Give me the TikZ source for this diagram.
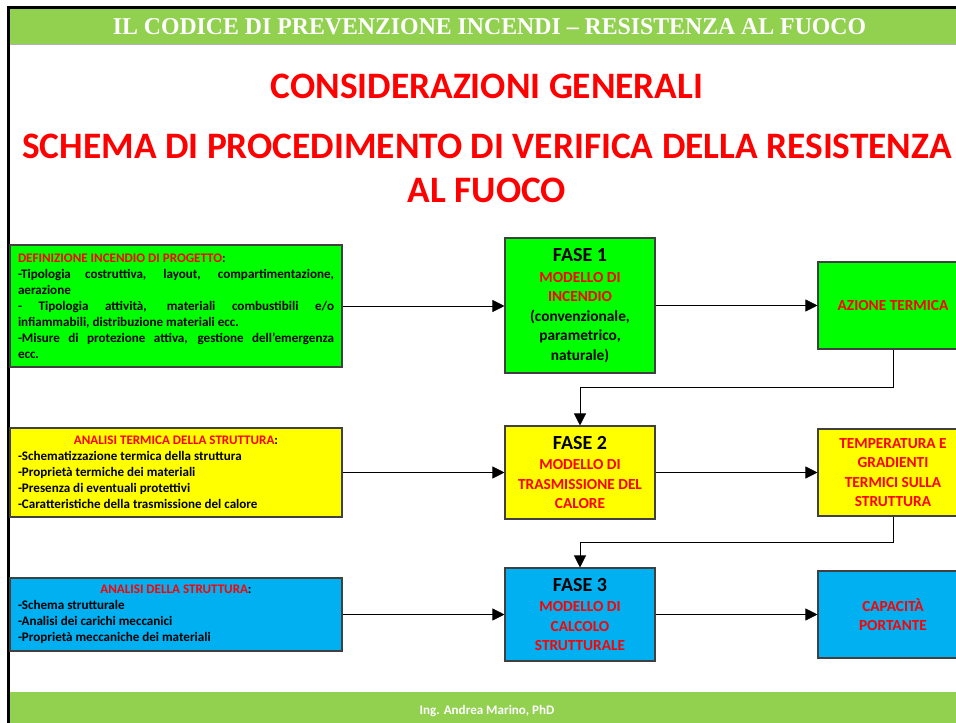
\documentclass[tikz,border=0pt]{standalone}
\usepackage{fontspec}
\usepackage{graphicx}
\setmainfont{Carlito}
\newfontfamily\headfont{Liberation Serif}
\usetikzlibrary{arrows.meta}
\definecolor{bandgreen}{HTML}{92D050}
\definecolor{boxgreen}{HTML}{00FF00}
\definecolor{boxyellow}{HTML}{FFFF00}
\definecolor{boxcyan}{HTML}{00B0F0}
\definecolor{linegray}{HTML}{404040}
\tikzset{arr/.style = {-{Triangle[length=9pt, width=9pt]}, draw=black, line width=0.6pt}}
\tikzset{box/.style = {draw=linegray, line width=0.8pt, inner sep=0}}
\tikzset{infobox/.style = {box, minimum width=249pt, text width=237pt, inner xsep=6pt,
                           font=\bfseries\fontsize{9.8}{12}\selectfont}}
\tikzset{fasebox/.style = {box, minimum width=112.5pt, minimum height=69.75pt, text width=105pt,
                           align=flush center, font=\bfseries\fontsize{11.5}{14.6}\selectfont}}
\tikzset{outbox/.style = {box, minimum width=112.5pt, minimum height=65.25pt, text width=100pt,
                          align=flush center, text=red, font=\bfseries\fontsize{11.5}{14.6}\selectfont}}
\tikzset{title/.style = {text=red, font=\bfseries\fontsize{28}{33}\selectfont}}
\newcommand{\fasename}[1]{{\fontsize{15}{18}\selectfont FASE #1}\\[1pt]}

\begin{document}
\begin{tikzpicture}[x=0.75pt, y=-0.75pt]
      \useasboundingbox (0,0) rectangle (956,723);
      \clip (0,0) rectangle (956,723);
      % frame and bands
      \fill [bandgreen] (10,9) rectangle (960,44);
      \draw [gray!60, line width=0.6pt] (10,44.5) -- (960,44.5);
      \fill [bandgreen] (10,692) rectangle (960,723);
      \draw [black, line width=2.4pt] (7,7.5) -- (960,7.5);
      \draw [black, line width=2.4pt] (8.5,6) -- (8.5,723);
      \node (head) at (489.5,27) {\resizebox{565pt}{12pt}{\color{white}\headfont\bfseries IL CODICE DI PREVENZIONE INCENDI – RESISTENZA AL FUOCO}};
      \node (pagenum) [anchor = west, text = white] at (952,27) {\headfont\bfseries\fontsize{15}{18}\selectfont 5};
      \node (foot) [text = white, font = \bfseries\fontsize{9.8}{12}\selectfont] at (487,711) {Ing. Andrea Marino, PhD};
      % titles
      \node (t1) [title] at (487,86) {CONSIDERAZIONI GENERALI};
      \node (t2) [title] at (487,146) {SCHEMA DI PROCEDIMENTO DI VERIFICA DELLA RESISTENZA};
      \node (t3) [title] at (487,190) {AL FUOCO};
      % input boxes
      \node (def) [infobox, fill = boxgreen, minimum height = 91.5pt, align = justify] at (176,306) {%
        {\color{red}DEFINIZIONE INCENDIO DI PROGETTO}:\\
        -Tipologia costruttiva, layout, compartimentazione,\linebreak aerazione\\
        - Tipologia attività, materiali combustibili e/o\linebreak infiammabili, distribuzione materiali ecc.\\
        -Misure di protezione attiva, gestione dell’emergenza\linebreak ecc.};
      \node (term) [infobox, fill = boxyellow, minimum height = 66.75pt, align = flush left] at (176,472.5) {%
        \hfill{\color{red}ANALISI TERMICA DELLA STRUTTURA}:\hfill\null\\
        -Schematizzazione termica della struttura\\
        -Proprietà termiche dei materiali\\
        -Presenza di eventuali protettivi\\
        -Caratteristiche della trasmissione del calore};
      \node (mech) [infobox, fill = boxcyan, minimum height = 54.75pt, align = flush left] at (176,614.5) {%
        \hfill{\color{red}ANALISI DELLA STRUTTURA}:\hfill\null\\
        -Schema strutturale\\
        -Analisi dei carichi meccanici\\
        -Proprietà meccaniche dei materiali};
      % phases
      \node (fase1) [fasebox, fill = boxgreen, minimum height = 101.25pt] at (580,305.5) {%
        \fasename{1}{\color{red}MODELLO DI\\ INCENDIO}\\ (convenzionale,\\ parametrico,\\ naturale)};
      \node (fase2) [fasebox, fill = boxyellow] at (580,472.5) {%
        \fasename{2}{\color{red}MODELLO DI\\ TRASMISSIONE DEL\\ CALORE}};
      \node (fase3) [fasebox, fill = boxcyan] at (580,614.5) {%
        \fasename{3}{\color{red}MODELLO DI\\ CALCOLO\\ STRUTTURALE}};
      % results
      \node (azione) [outbox, fill = boxgreen] at (893,305.5) {AZIONE TERMICA};
      \node (temp) [outbox, fill = boxyellow] at (893,472.5) {TEMPERATURA E\\ GRADIENTI\\ TERMICI SULLA\\ STRUTTURA};
      \node (portata) [outbox, fill = boxcyan] at (893,614.5) {CAPACITÀ\\ PORTANTE};
      % connectors
      \draw [arr] (def.east) -- (def.east -| fase1.west);
      \draw [arr] (fase1.east) -- (azione.west);
      \draw [arr] (term.east) -- (fase2.west);
      \draw [arr] (fase2.east) -- (temp.west);
      \draw [arr] (mech.east) -- (fase3.west);
      \draw [arr] (fase3.east) -- (portata.west);
      \coordinate (k1) at (893,387);
      \coordinate (k2) at (893,542);
      \draw [arr] (azione.south) -- (k1) -| (fase2.north);
      \draw [arr] (temp.south) -- (k2) -| (fase3.north);
\end{tikzpicture}
\end{document}
